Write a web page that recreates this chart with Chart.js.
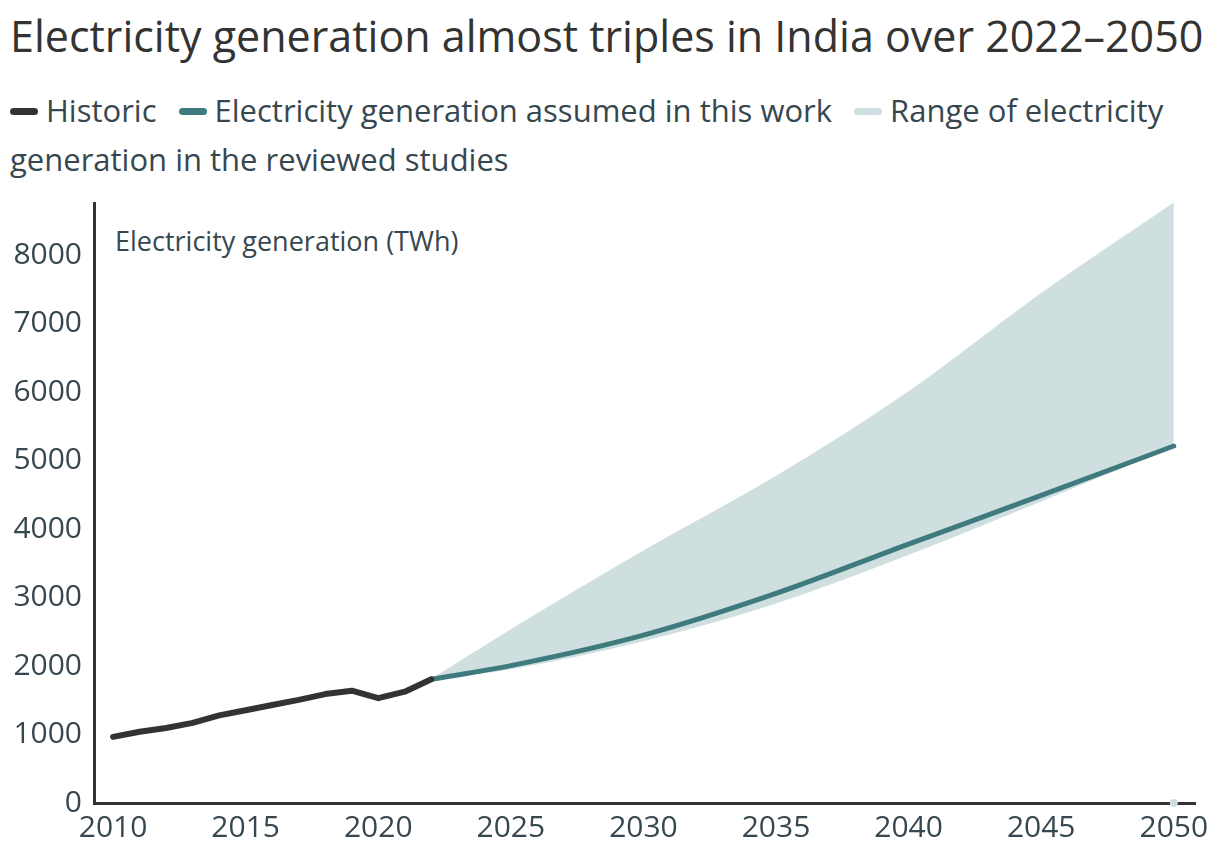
<!DOCTYPE html>
<html>
<head>
<meta charset="utf-8">
<script src="https://cdn.jsdelivr.net/npm/chart.js@4/dist/chart.umd.min.js"></script>
<style>
  html, body { margin: 0; padding: 0; background: #fff; }
  body { width: 1220px; height: 862px; position: relative; overflow: hidden; font-family: "Open Sans", "Noto Sans", sans-serif; }
  #title { position: absolute; left: 10px; top: 6px; font-size: 43px; color: #333333; white-space: nowrap; }
  #legend { position: absolute; left: 10px; top: 86px; width: 1200px; font-size: 31px; line-height: 49px; color: #37474f; }
  .item { white-space: nowrap; }
  .sw { display: inline-block; width: 28px; height: 7px; border-radius: 4px; vertical-align: middle; margin-right: 8px; position: relative; top: -2px; }
  .gap { display: inline-block; width: 14px; }
  #unit { position: absolute; left: 115px; top: 222px; font-size: 27px; color: #37474f; }
  canvas { position: absolute; left: 0; top: 0; }
</style>
</head>
<body>
<div id="title">Electricity generation almost triples in India over 2022–2050</div>
<div id="legend">
  <span class="item"><span class="sw" style="background:#333333"></span>Historic</span><span class="gap"></span>
  <span class="item"><span class="sw" style="background:#3f7b7e"></span>Electricity generation assumed in this work</span><span class="gap"></span>
  <span class="sw" style="background:#cfdfdf"></span>Range of electricity generation in the reviewed studies
</div>
<div id="unit">Electricity generation (TWh)</div>
<canvas id="chart" width="1220" height="862"></canvas>
<script>
const historicYears = [2010, 2011, 2012, 2013, 2014, 2015, 2016, 2017, 2018, 2019, 2020, 2021, 2022];
const historicValues = [965, 1040, 1095, 1170, 1280, 1355, 1430, 1505, 1590, 1640, 1530, 1625, 1806];

const projYears = [2022, 2025, 2030, 2035, 2040, 2045, 2050];
const assumedValues = [1806, 2005, 2450, 3060, 3780, 4490, 5212];
const rangeLow = [1806, 1960, 2370, 2920, 3630, 4410, 5212];
const rangeHigh = [1806, 2530, 3680, 4770, 6005, 7440, 8760];

const xTicks = [2010, 2015, 2020, 2025, 2030, 2035, 2040, 2045, 2050];
const yTicks = [0, 1000, 2000, 3000, 4000, 5000, 6000, 7000, 8000];

const pts = (xs, ys) => xs.map((x, i) => ({ x: x, y: ys[i] }));

const tickColor = '#37474f';
const tickFont = { family: '"Open Sans", "Noto Sans", sans-serif', size: 30 };

const chartConfig = {
    type: 'line',
    data: {
        datasets: [
            {
                label: 'Historic',
                data: pts(historicYears, historicValues),
                borderColor: '#333333',
                borderWidth: 6,
                borderCapStyle: 'round',
                borderJoinStyle: 'round',
                pointRadius: 0,
                fill: false,
                order: 0
            },
            {
                label: 'Electricity generation assumed in this work',
                data: pts(projYears, assumedValues),
                borderColor: '#3f7b7e',
                borderWidth: 5,
                borderCapStyle: 'round',
                cubicInterpolationMode: 'monotone',
                pointRadius: 0,
                fill: false,
                order: 1
            },
            {
                label: 'Range high',
                data: pts(projYears, rangeHigh),
                borderColor: '#cfdfdf',
                borderWidth: 1,
                backgroundColor: '#cfdfdf',
                cubicInterpolationMode: 'monotone',
                pointRadius: 0,
                fill: 3,
                order: 2
            },
            {
                label: 'Range low',
                data: pts(projYears, rangeLow),
                borderColor: '#cfdfdf',
                borderWidth: 1,
                cubicInterpolationMode: 'monotone',
                pointRadius: 0,
                fill: false,
                order: 3
            },
            {
                label: 'marker',
                data: [{ x: 2050, y: 0 }],
                showLine: false,
                pointRadius: 4,
                pointBackgroundColor: '#cfdfdf',
                pointBorderWidth: 0,
                clip: false,
                order: 4
            }
        ]
    },
    options: {
        responsive: false,
        animation: false,
        layout: { padding: { top: 203, right: 25, bottom: 0, left: 0 } },
        plugins: {
            legend: { display: false },
            tooltip: { enabled: false }
        },
        scales: {
            x: {
                type: 'linear',
                min: 2009.28,
                max: 2050.8,
                afterBuildTicks: (scale) => { scale.ticks = xTicks.map(v => ({ value: v })); },
                afterFit: (scale) => { scale.height = 59; },
                grid: { color: 'transparent', drawTicks: false },
                border: { display: true, color: '#333333', width: 3 },
                ticks: { color: tickColor, font: tickFont, padding: 7, maxRotation: 0, callback: v => String(v) }
            },
            y: {
                min: 0,
                max: 8760,
                afterBuildTicks: (scale) => { scale.ticks = yTicks.map(v => ({ value: v })); },
                afterFit: (scale) => { scale.width = 94; },
                grid: { color: 'transparent', drawTicks: false },
                border: { display: true, color: '#333333', width: 3 },
                ticks: { color: tickColor, font: tickFont, padding: 12, callback: v => String(v) }
            }
        }
    }
};

new Chart(document.getElementById('chart').getContext('2d'), chartConfig);
</script>
</body>
</html>
